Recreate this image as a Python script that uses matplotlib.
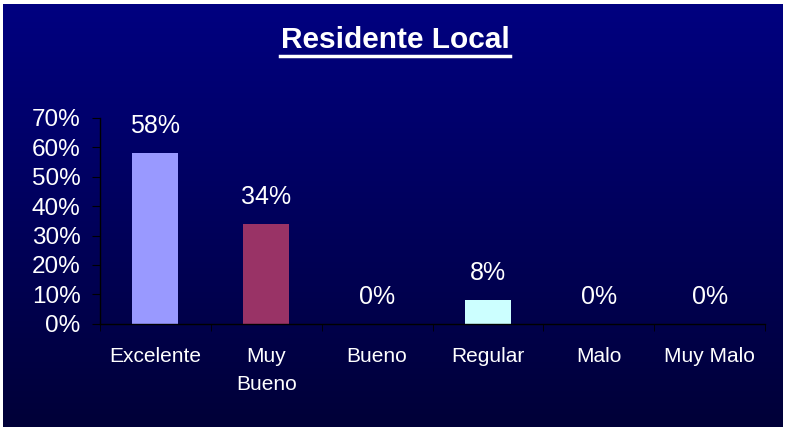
import numpy as np
import matplotlib
matplotlib.use("Agg")
import matplotlib.pyplot as plt
from matplotlib.colors import LinearSegmentedColormap

categories = ["Excelente", "Muy\nBueno", "Bueno", "Regular", "Malo", "Muy Malo"]
values = [0.58, 0.34, 0.0, 0.08, 0.0, 0.0]
labels = ["58%", "34%", "0%", "8%", "0%", "0%"]
colors = ["#9999FF", "#993366", "#9999FF", "#CCFFFF", "#9999FF", "#9999FF"]
yticks = [0, 0.1, 0.2, 0.3, 0.4, 0.5, 0.6, 0.7]
ytick_labels = ["0%", "10%", "20%", "30%", "40%", "50%", "60%", "70%"]
title = "Residente Local"

plt.rcParams['font.family'] = ['Liberation Sans', 'DejaVu Sans']

W, H = 785, 428
fig = plt.figure(figsize=(W / 100, H / 100), dpi=100)
fig.patch.set_facecolor("white")

# gradient background
bg = fig.add_axes([3 / W, 1 / H, 780 / W, 423 / H])
cmap = LinearSegmentedColormap.from_list("bg", ["#000080", "#000038"])
grad = np.linspace(0, 1, 256).reshape(-1, 1)
bg.imshow(grad, aspect="auto", cmap=cmap, extent=[0, 1, 1, 0])
bg.set_axis_off()

ax = fig.add_axes([100 / W, (H - 323.7) / H, 665 / W, 205.7 / H])
ax.set_facecolor("none")
x = np.arange(len(categories))
ax.bar(x, values, width=0.415, color=colors, zorder=2)
ax.set_xlim(-0.5, len(categories) - 0.5)
ax.set_ylim(0, 0.7)

for xi, v, lab in zip(x, values, labels):
    ax.annotate(lab, (xi, v), xytext=(0, 14.4), textcoords="offset points",
                ha="center", va="baseline", color="white", fontsize=18)

ax.set_yticks(yticks)
ax.set_yticklabels(ytick_labels, color="white", fontsize=17.5)
ax.set_xticks(x)
ax.set_xticklabels(categories, color="white", fontsize=15, linespacing=1.6, va="top")
ax.set_xticks(np.arange(-0.5, len(categories)), minor=True)
ax.tick_params(axis="x", which="major", length=0, pad=17)
ax.tick_params(axis="x", which="minor", length=5, color="black", direction="out")
ax.tick_params(axis="y", length=6, color="black", direction="out", pad=8)

for s in ["top", "right"]:
    ax.spines[s].set_visible(False)
for s in ["left", "bottom"]:
    ax.spines[s].set_color("black")
    ax.spines[s].set_linewidth(1)

fig.text(395 / W, 1 - 40 / H, title, ha="center", va="center", color="white",
         fontsize=21.5, fontweight="bold")
# underline of the title
fig.add_artist(plt.Line2D([280 / W, 510 / W], [1 - 56 / H, 1 - 56 / H],
                          color="white", linewidth=2.5))

fig.savefig("out.png", dpi=100)
